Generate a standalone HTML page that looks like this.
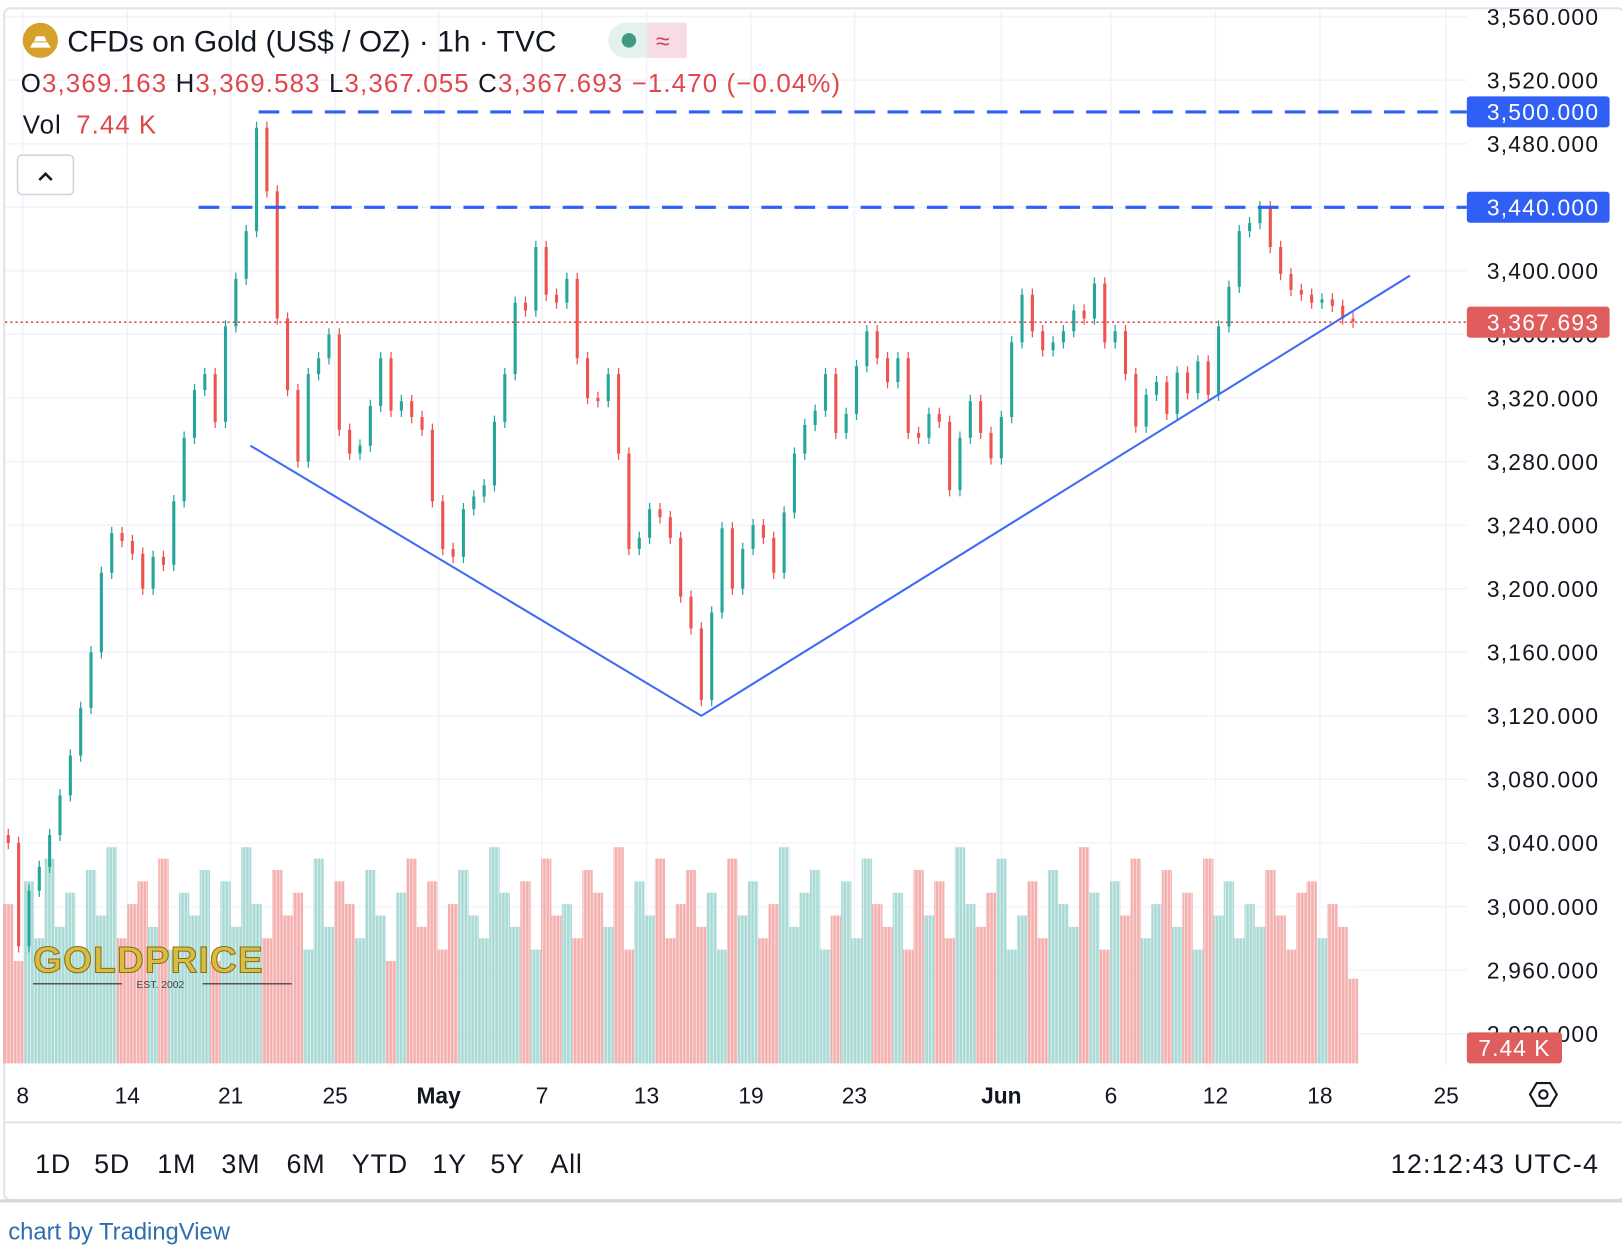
<!DOCTYPE html>
<html><head><meta charset="utf-8">
<style>
html,body{margin:0;padding:0;background:#fff;overflow:hidden;width:1622px;height:1258px}
#wrap{width:1568px;height:1216px;transform:scale(1.03444);transform-origin:0 0;position:relative}
svg text{font-family:"Liberation Sans",sans-serif}
</style></head><body>
<div id="wrap">
<svg id="chart" width="1568" height="1216" viewBox="0 0 1568 1216" xmlns="http://www.w3.org/2000/svg">
<rect x="4" y="8" width="1566" height="1152" fill="#fff" stroke="#e0e3eb" stroke-width="2" rx="6"/>
<g id="grid"></g>
<g id="vol"></g>
<g id="candles"></g>
<g id="overlay"></g>
<g id="axis"></g>
<g>
<circle cx="39" cy="39" r="17" fill="#d4a12b"/>
<path d="M29 46h20l-3-5h-14zM33 40h12l-2-5h-8z" fill="#fff"/>
<text x="65" y="50" font-size="29" fill="#131722">CFDs on Gold (US$ / OZ) · 1h · TVC</text>
<rect x="588" y="22" width="76" height="34" rx="17" fill="#e4f2ee"/>
<rect x="626" y="22" width="38" height="34" rx="0" fill="#f7dde3"/>
<rect x="646" y="22" width="18" height="34" rx="17" fill="#f7dde3"/>
<circle cx="608" cy="39" r="7" fill="#3f9a82"/>
<text x="634" y="48" font-size="24" fill="#d0416a">≈</text>
<text x="20" y="89" font-size="25" letter-spacing="1.1"><tspan fill="#131722">O</tspan><tspan fill="#e0464b">3,369.163 </tspan><tspan fill="#131722">H</tspan><tspan fill="#e0464b">3,369.583 </tspan><tspan fill="#131722">L</tspan><tspan fill="#e0464b">3,367.055 </tspan><tspan fill="#131722">C</tspan><tspan fill="#e0464b">3,367.693  −1.470 (−0.04%)</tspan></text>
<text x="22" y="129" font-size="25" letter-spacing="1"><tspan fill="#131722">Vol </tspan><tspan fill="#e0464b" dx="6">7.44 K</tspan></text>
<rect x="17" y="150" width="54" height="38" rx="4" fill="#fff" stroke="#d1d4dc" stroke-width="1.5"/>
<path d="M38 174l6-6 6 6" fill="none" stroke="#131722" stroke-width="2.5"/>
</g>
<g>
<text x="32" y="940" font-size="36" font-weight="bold" font-family="Liberation Serif,serif" fill="#d8bd45" stroke="#8a6d10" stroke-width="1" letter-spacing="1">GOLDPRICE</text>
<line x1="32" y1="951" x2="118" y2="951" stroke="#555" stroke-width="1.5"/>
<line x1="196" y1="951" x2="282" y2="951" stroke="#555" stroke-width="1.5"/>
<text x="132" y="955" font-size="10" font-family="Liberation Serif,serif" fill="#444">EST. 2002</text>
</g>
<line x1="4" y1="1085" x2="1568" y2="1085" stroke="#e0e3eb" stroke-width="2"/>
<g font-size="26" fill="#131722" letter-spacing="0.8">
<text x="34" y="1134">1D</text>
<text x="91" y="1134">5D</text>
<text x="152" y="1134">1M</text>
<text x="214" y="1134">3M</text>
<text x="277" y="1134">6M</text>
<text x="340" y="1134">YTD</text>
<text x="418" y="1134">1Y</text>
<text x="474" y="1134">5Y</text>
<text x="532" y="1134">All</text>
<text x="1546" y="1134" text-anchor="end" letter-spacing="1.2">12:12:43 UTC-4</text>
</g>
<line x1="0" y1="1161" x2="1568" y2="1161" stroke="#d8d8d8" stroke-width="3"/>
<text x="8" y="1198" font-size="23" fill="#2e6db0">chart by TradingView</text>
<g transform="translate(1492,1058)">
<path d="M-13 0L-6.5 -11H6.5L13 0L6.5 11H-6.5Z" fill="none" stroke="#131722" stroke-width="2"/>
<circle r="4" fill="none" stroke="#131722" stroke-width="2"/>
</g>
</svg>
</div>
<script>
const closes = [3040,2975,3010,3025,3045,3070,3095,3125,3160,3210,3235,3230,3222,3200,3220,3215,3255,3295,3325,3335,3305,3365,3395,3425,3490,3450,3370,3325,3280,3335,3345,3360,3300,3285,3290,3315,3345,3312,3318,3308,3300,3255,3225,3220,3250,3258,3265,3305,3335,3380,3375,3415,3385,3380,3395,3345,3320,3318,3335,3285,3225,3232,3250,3245,3232,3195,3175,3130,3185,3238,3200,3225,3240,3232,3210,3248,3285,3303,3312,3335,3298,3310,3340,3362,3345,3330,3345,3298,3295,3310,3305,3262,3295,3318,3298,3282,3308,3355,3385,3362,3350,3355,3362,3375,3370,3392,3355,3362,3335,3302,3322,3330,3310,3336,3323,3343,3322,3365,3390,3425,3430,3440,3415,3398,3388,3385,3380,3382,3378,3370,3368];
const volumes = [14,9,16,11,18,12,15,10,17,13,19,11,14,16,12,18,10,15,13,17,9,16,12,19,14,11,17,13,15,10,18,12,16,14,11,17,13,9,15,18,12,16,10,14,17,13,11,19,15,12,16,10,18,13,14,11,17,15,12,19,10,16,13,18,11,14,17,12,15,10,18,13,16,11,14,19,12,15,17,10,13,16,11,18,14,12,15,10,17,13,16,11,19,14,12,15,18,10,13,16,11,17,14,12,19,15,10,16,13,18,11,14,17,12,15,10,18,13,16,11,14,12,17,13,10,15,16,11,14,12,7.44];
const priceTicks = [3560,3520,3480,3440,3400,3360,3320,3280,3240,3200,3160,3120,3080,3040,3000,2960,2920];
const dayLabels = ["8","14","21","25","May","7","13","19","23","Jun","6","12","18","25"];
const dayIndex = [1.4,11.5,21.5,31.6,41.6,51.6,61.7,71.8,81.8,96,106.6,116.7,126.8,139];
const levels = [3500,3440];
const lastPrice = 3367.693;
const trendPts = [[23.4,3290],[67,3120],[135.5,3397]];

const NS="http://www.w3.org/2000/svg";
const yP=v=>16+(3560-v)*1.53636;
const xI=i=>8+i*10;
const yV=v=>1028-v*11;
function mk(tag,attrs,parent){const e=document.createElementNS(NS,tag);for(const k in attrs)e.setAttribute(k,attrs[k]);parent.appendChild(e);return e;}
const grid=document.getElementById('grid'),vol=document.getElementById('vol'),cg=document.getElementById('candles'),ov=document.getElementById('overlay'),ax=document.getElementById('axis');
priceTicks.forEach(v=>{
  const l=mk('line',{x1:5,x2:1418,y1:yP(v),y2:yP(v),stroke:'#f0f3fa','stroke-width':1.5},grid);
  
  
  const t=mk('text',{x:1546,y:yP(v)+8,'font-size':22,'letter-spacing':1.2,fill:'#131722','text-anchor':'end'},ax);
  t.textContent=v.toLocaleString('en-US')+'.000';
  
  
});
dayLabels.forEach((d,k)=>{
  const x=xI(dayIndex[k]);
  const l=mk('line',{x1:x,x2:x,y1:10,y2:1030,stroke:'#f0f3fa','stroke-width':1.5},grid);
  
  
  const t=mk('text',{x:x,y:1067,'font-size':22,fill:'#131722','text-anchor':'middle','font-weight':(d==='May'||d==='Jun')?'bold':'normal'},ax);
  t.textContent=d;
  
  
});
closes.forEach((c,i)=>{
  const o=i?closes[i-1]:c+5;
  const up=c>=o;
  const col=up?'#26a69a':'#ef5350';
  const x=xI(i);
  const vb=mk('rect',{x:x-5,y:yV(volumes[i]),width:10,height:1028-yV(volumes[i]),fill:up?'#a9dad5':'#f4b0ae'},vol);
  
  
  const hi=Math.max(o,c),lo=Math.min(o,c);
  const w=mk('line',{x1:x,x2:x,y1:yP(hi)-6,y2:yP(lo)+6,stroke:col,'stroke-width':1.2},cg);
  
  
  const b=mk('rect',{x:x-1.5,y:yP(hi),width:3,height:Math.max(1,yP(lo)-yP(hi)),fill:col},cg);
  
  
});
// white stripes to give the volume area its thin-bar texture
for(let sx=6;sx<1315;sx+=3.3){mk('rect',{x:sx,y:760,width:1,height:270,fill:'#fff',opacity:0.55},vol);}
const tl=mk('polyline',{points:trendPts.map(p=>xI(p[0])+','+yP(p[1])).join(' '),fill:'none',stroke:'#3d6bf5','stroke-width':2},ov);


const lvStart=[24.2,18.4];
levels.forEach((v,k)=>{
  const l=mk('line',{x1:xI(lvStart[k]),x2:1418,y1:yP(v),y2:yP(v),stroke:'#2f5ff5','stroke-width':3,'stroke-dasharray':'20 12'},ov);
  
  
  const r=mk('rect',{x:1418,y:yP(v)-15,width:138,height:30,rx:3,fill:'#2f5ff5'},ax);
  
  
  const t=mk('text',{x:1546,y:yP(v)+8,'font-size':22,'letter-spacing':1.2,fill:'#fff','text-anchor':'end'},ax);
  t.textContent=v.toLocaleString('en-US')+'.000';
  
  
});
const pl=mk('line',{x1:5,x2:1418,y1:yP(lastPrice),y2:yP(lastPrice),stroke:'#e0464b','stroke-width':1.5,'stroke-dasharray':'2 3'},ov);


const pr=mk('rect',{x:1418,y:yP(lastPrice)-15,width:138,height:30,rx:3,fill:'#e05d5d'},ax);


const pt=mk('text',{x:1546,y:yP(lastPrice)+8,'font-size':22,'letter-spacing':1.2,fill:'#fff','text-anchor':'end'},ax);
pt.textContent=lastPrice.toLocaleString('en-US',{minimumFractionDigits:3});


const vr=mk('rect',{x:1418,y:998,width:92,height:30,rx:3,fill:'#e05d5d'},ax);


const vt=mk('text',{x:1464,y:1021,'font-size':22,'letter-spacing':1,fill:'#fff','text-anchor':'middle'},ax);
vt.textContent=volumes[volumes.length-1]+' K';


</script>
</body></html>
